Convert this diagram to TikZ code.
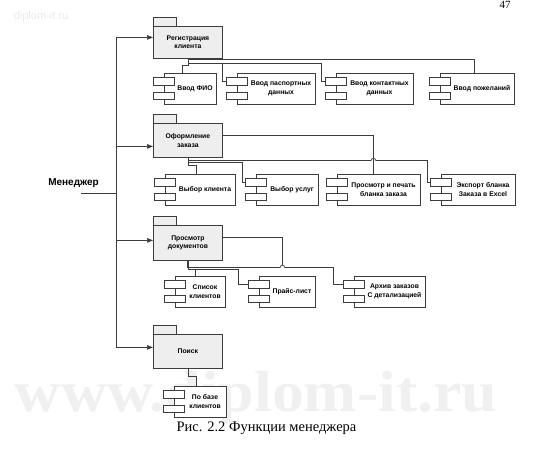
\documentclass[tikz,border=0pt]{standalone}
\usepackage{fontspec}
\setmainfont{Liberation Serif}
\newfontfamily\boxfont{Liberation Sans}
\usetikzlibrary{arrows.meta}
\definecolor{lin}{HTML}{3C3C3C}
\definecolor{pkgfill}{HTML}{EEEEEE}

\newcommand\pkg[4]{%
	\node[pkgbox,minimum height=#3pt,anchor=north west] (#1) at (153,#2) {#4};
	\draw[pkgtab] (#1.north west) rectangle ++(23,-9);
}
\newcommand\comp[5]{%
	\node[compbox,minimum width={(#4-#2-10.5)*1pt},anchor=north west] (#1) at (#2+10.5,#3) {};
	\node[comptext] (#1-t) at ({(#2+21+#4)/2},#3+15.5) {#5};
	\draw[plug] (#2,#3+4.5) rectangle ++(21,7.5);
	\draw[plug] (#2,#3+19) rectangle ++(21,7.5);
	\coordinate (#1-p) at (#2,#3+8.25);
}

\begin{document}
\begin{tikzpicture}[x=1pt,y=-1pt,
	conn/.style={draw=lin,line width=0.7pt},
	arr/.style={conn,-{Triangle[length=6pt,width=4.5pt]}},
	pkgbox/.style={draw=lin,fill=pkgfill,line width=0.8pt,minimum width=69pt,inner sep=1pt,align=center,
		font=\boxfont\bfseries\fontsize{6.8}{8.5}\selectfont},
	pkgtab/.style={draw=lin,fill=pkgfill,line width=0.8pt},
	compbox/.style={draw=lin,fill=white,line width=0.8pt,minimum height=31pt,inner sep=0pt},
	comptext/.style={inner sep=0pt,align=center,font=\boxfont\bfseries\fontsize{6.8}{8.5}\selectfont},
	plug/.style={draw=lin,fill=white,line width=0.8pt}]
	\clip (0,0) rectangle (545,460);
	\fill[white] (0,0) rectangle (545,460);
	\node[text=black!6,font=\bfseries\fontsize{58}{58}\selectfont,xscale=1.1] (wm) at (256,398) {www.diplom-it.ru};
	\node[text=black!8,font=\boxfont\fontsize{11}{11}\selectfont] (wm2) at (41,17) {diplom-it.ru};
	\node[font=\fontsize{11}{11}\selectfont] (pg) at (505,5) {47};

	\pkg{reg}{26}{32}{Регистрация\\клиента}
	\pkg{ord}{123}{34}{Оформление\\заказа}
	\pkg{dok}{225}{35}{Просмотр\\документов}
	\pkg{poi}{334}{34}{Поиск}

	\comp{c11}{153}{73}{216}{Ввод ФИО}
	\comp{c12}{226}{73}{315}{Ввод паспортных\\данных}
	\comp{c13}{325}{73}{413}{Ввод контактных\\данных}
	\comp{c14}{429}{73}{514}{Ввод пожеланий}
	\comp{c21}{154}{174}{235}{Выбор клиента}
	\comp{c22}{245}{174}{318}{Выбор услуг}
	\comp{c23}{326}{174}{420}{Просмотр и печать\\бланка заказа}
	\comp{c24}{430}{174}{515}{Экспорт бланка\\Заказа в Excel}
	\comp{c31}{164}{276}{225}{Список\\клиентов}
	\comp{c32}{248}{276}{315}{Прайс-лист}
	\comp{c33}{343}{276}{425}{Архив заказов\\С детализацией}
	\comp{c41}{163}{386}{226}{По базе\\клиентов}

	\draw[conn] (reg.south) -- ++(0,1) -| ([xshift=-3pt]c14.north);
	\draw[conn] (reg.south) -- ++(0,5) -| ([xshift=-4pt]c13-p) -- (c13-p);
	\draw[conn] (reg.south) -- ++(0,5) -| ([xshift=-4pt]c12-p) -- (c12-p);
	\draw[conn] (reg.south) -- ++(0,7) -| ([xshift=-7.5pt]c11.north);

	\draw[conn] (ord.south) -- ++(0,3) coordinate (j2) -| ([xshift=-3pt]c24-p) -- (c24-p);
	\draw[conn] (ord.south) -- ++(0,5) -| ([xshift=-3pt]c22-p) -- (c22-p);
	\draw[conn] (ord.south) -- ++(0,8) -| ([xshift=-4pt]c21.north);
	\path (j2) ++(185.5,0) coordinate (h2);
	\fill[white] ([shift={(-2.5,-0.8)}]h2) rectangle ([shift={(2.5,0.8)}]h2);
	\draw[conn] ([xshift=-2.5pt]h2) arc (180:360:2.5);
	\draw[conn] ([yshift=5pt]ord.east) -| (h2 |- c23.north);

	\draw[conn,line width=1.5pt] (dok.south) -- ++(0,7);
	\draw[conn] (dok.south) -- ++(0,7) coordinate (j3) -| ([xshift=-10pt]c33-p) -- (c33-p);
	\draw[conn] (dok.south) -- ++(0,9) -| ([xshift=-10pt]c32-p) -- (c32-p);
	\draw[conn] (dok.south) -- ++(0,9) -| ([xshift=-4.75pt]c31.north);
	\path (j3) ++(94.5,0) coordinate (h3);
	\fill[white] ([shift={(-2.5,-0.8)}]h3) rectangle ([shift={(2.5,0.8)}]h3);
	\draw[conn] ([xshift=-2.5pt]h3) arc (180:360:2.5);
	\draw[conn] ([yshift=5.5pt]dok.east) -| ([yshift=2.5pt]h3);

	\draw[conn] (poi.south) -- ++(0,8) -| ([xshift=-3.75pt]c41.north);

	\node[font=\boxfont\bfseries\fontsize{10}{12}\selectfont] (mgr) at (73.5,183) {Менеджер};
	\coordinate (bus) at (116,193);
	\coordinate (m) at (81,193);
	\draw[conn] (m) -- (bus);
	\foreach \p/\s in {reg/5,ord/-6,dok/2.5,poi/4}
		\draw[arr] (bus) |- ([yshift=\s pt]\p.west);

	\node[font=\fontsize{14.5}{16}\selectfont] (cap) at (266.5,428) {Рис. 2.2 Функции менеджера};
\end{tikzpicture}
\end{document}
